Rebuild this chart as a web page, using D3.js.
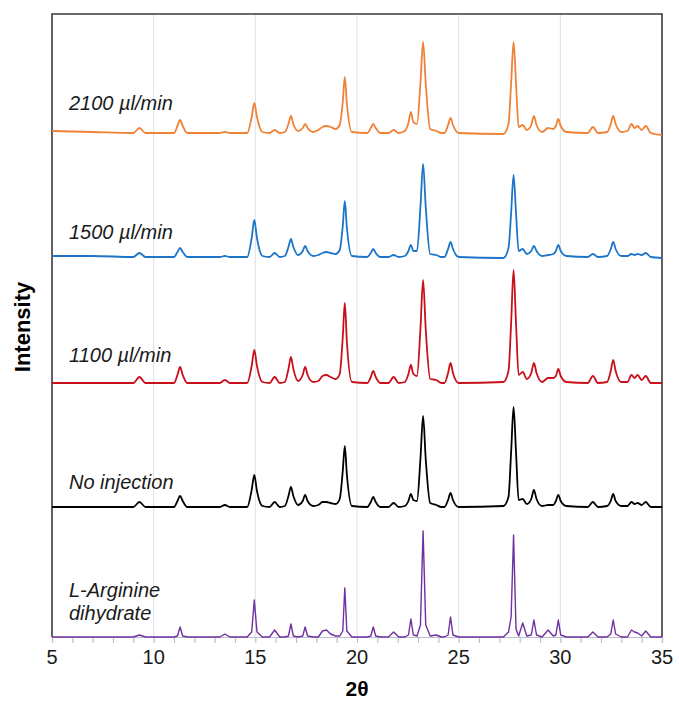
<!DOCTYPE html>
<html><head><meta charset="utf-8">
<script src="https://cdn.jsdelivr.net/npm/d3@7"></script>
<style>html,body{margin:0;padding:0;background:#fff;} svg{display:block;}</style>
</head><body>
<svg id="chart" width="679" height="709"></svg>
<script>
// 2θ vertices (shared by all patterns)
const twoTheta = [
  5.0, 7.0,
  9.0, 9.3, 9.6,
  11.0, 11.17, 11.3, 11.43, 11.65,
  13.25, 13.5, 13.75,
  14.6, 14.82, 14.95, 15.08, 15.35,
  15.7, 15.95, 16.2,
  16.45, 16.63, 16.75, 16.87, 17.1, 17.33, 17.45, 17.57, 17.85,
  18.1, 18.3, 18.5, 18.7, 18.95, 19.15, 19.3, 19.4, 19.5, 19.75,
  20.5, 20.68, 20.8, 20.92, 21.15,
  21.55, 21.8, 22.05,
  22.35, 22.53, 22.65, 22.77, 22.95, 23.12, 23.25, 23.38, 23.6, 23.9, 24.15,
  24.3, 24.48, 24.6, 24.72, 25.0,
  27.2, 27.45, 27.58, 27.7, 27.82, 27.95, 28.15, 28.35, 28.57, 28.7, 28.83, 29.1,
  29.4, 29.65, 29.78, 29.9, 30.02, 30.3,
  31.35, 31.6, 31.85,
  32.3, 32.48, 32.6, 32.72, 33.0,
  33.3, 33.5, 33.65, 33.8, 34.0, 34.2, 34.45,
  35.0
];

const seriesNames = ["L-Arginine dihydrate", "No injection", "1100 µl/min", "1500 µl/min", "2100 µl/min"];
const seriesColors = ["#7030a0", "#000000", "#c8101a", "#1c75c8", "#ef8236"];
const seriesOffsets = [0, 130, 254, 380, 504];

const intensityArginine = [
  0, 0,
  0, 2, 0,
  0, 1, 10, 1, 0,
  0, 3, 0,
  0, 5, 37, 5, 0,
  0, 7, 0,
  0, 1, 13, 1, 0, 1, 10, 1, 0,
  0, 6, 7, 3, 1, 1, 6, 49, 6, 0,
  0, 1, 10, 1, 0,
  0, 5, 0,
  0, 2, 18, 2, 1, 12, 106, 12, 1, 2, 0,
  0, 2, 20, 2, 0,
  0, 5, 20, 102, 8, 1, 14, 1, 2, 17, 2, 0,
  7, 1, 2, 17, 2, 0,
  0, 5, 0,
  0, 3, 17, 3, 0,
  0, 7, 5, 4, 1, 6, 0,
  0
];
const intensityNoInjection = [
  0, 0,
  0, 5, 0,
  0, 6, 11, 6, 0,
  0, 2, 0,
  0, 17, 32, 16, 1,
  0, 5, 0,
  1, 11, 20, 11, 2, 6, 12, 6, 1,
  2, 5, 5, 4, 3, 8, 36, 61, 33, 1,
  0, 5, 10, 5, 0,
  0, 4, 0,
  1, 6, 13, 7, 6, 48, 91, 48, 4, 2, 0,
  0, 7, 14, 7, 0,
  1, 10, 55, 100, 55, 7, 8, 3, 8, 17, 8, 1,
  2, 2, 6, 12, 6, 1,
  0, 5, 0,
  1, 6, 13, 6, 1,
  1, 5, 3, 4, 2, 5, 0,
  0
];
const intensity1100 = [
  0, 0,
  0, 6, 0,
  0, 8, 16, 8, 0,
  0, 3, 0,
  0, 17, 33, 17, 1,
  0, 6, 0,
  1, 14, 26, 14, 2, 8, 16, 8, 1,
  2, 7, 8, 6, 4, 9, 46, 80, 42, 1,
  0, 6, 12, 6, 0,
  0, 6, 0,
  1, 9, 18, 9, 7, 54, 103, 54, 4, 3, 0,
  0, 10, 20, 10, 0,
  1, 12, 60, 113, 60, 8, 11, 4, 10, 20, 10, 1,
  5, 5, 7, 14, 7, 1,
  0, 7, 0,
  1, 12, 23, 12, 1,
  1, 8, 5, 8, 3, 7, 0,
  0
];
const intensity1500 = [
  1, 1,
  0, 4, 0,
  0, 5, 9, 5, 0,
  0, 1, 0,
  0, 19, 37, 19, 1,
  0, 4, 0,
  1, 10, 18, 10, 2, 6, 11, 6, 1,
  2, 4, 5, 4, 3, 7, 31, 56, 30, 1,
  0, 4, 8, 4, 0,
  0, 2, 0,
  1, 6, 12, 6, 6, 50, 93, 50, 3, 2, 0,
  0, 8, 15, 8, 0,
  -1, 9, 44, 82, 44, 6, 8, 3, 6, 11, 6, 1,
  2, 3, 6, 12, 6, 1,
  0, 3, 0,
  1, 8, 15, 8, 1,
  1, 3, 2, 3, 2, 4, 0,
  -1
];
const intensity2100 = [
  2, 1,
  0, 5, 0,
  0, 7, 13, 7, 0,
  0, 1, 0,
  0, 16, 30, 16, 1,
  0, 3, 0,
  1, 9, 17, 9, 2, 5, 9, 5, 1,
  3, 6, 7, 6, 4, 8, 31, 56, 30, 1,
  0, 5, 9, 5, 0,
  0, 3, 0,
  2, 10, 21, 11, 9, 50, 91, 50, 4, 2, 0,
  0, 8, 15, 8, 0,
  -1, 9, 50, 91, 50, 6, 8, 3, 8, 17, 8, 1,
  5, 4, 7, 14, 7, 1,
  0, 6, 0,
  1, 9, 17, 9, 1,
  2, 9, 5, 7, 3, 7, 0,
  -2
];
const seriesValues = [intensityArginine, intensityNoInjection, intensity1100, intensity1500, intensity2100];

const xTicks = [5, 10, 15, 20, 25, 30, 35];
const xMinorTicks = d3.range(5, 36, 1);
const labelLines = [["L-Arginine", "dihydrate"], ["No injection"], ["1100 µl/min"], ["1500 µl/min"], ["2100 µl/min"]];

// ---------- layout ----------
const m = {left: 52, right: 662, top: 14, bottom: 637};
const svg = d3.select("#chart");
const x = d3.scaleLinear().domain([5, 35]).range([m.left, m.right]);
const y = d3.scaleLinear().domain([0, 623]).range([m.bottom, m.top]);
const font = "'Liberation Sans', Arial, sans-serif";

// gridlines
svg.append("g").selectAll("line").data(xTicks.slice(1, -1)).join("line")
  .attr("x1", d => x(d)).attr("x2", d => x(d))
  .attr("y1", m.top).attr("y2", m.bottom)
  .attr("stroke", "#dbe1ea").attr("stroke-width", 1);

// x axis (minor ticks every 1)
const axisG = svg.append("g").attr("transform", `translate(0,${m.bottom})`);
axisG.call(d3.axisBottom(x).tickValues(xMinorTicks).tickSize(6).tickFormat(""));
axisG.select(".domain").attr("stroke", "#b9c0cc").attr("stroke-width", 1.2);
axisG.selectAll(".tick line").attr("stroke", "#b9c0cc").attr("stroke-width", 1.2);

// tick labels
svg.append("g").selectAll("text").data(xTicks).join("text")
  .attr("x", d => x(d)).attr("y", 664)
  .attr("text-anchor", "middle")
  .attr("font-family", font).attr("font-size", 20).attr("fill", "#1a1a1a")
  .text(d => d);

// frame (top, left, right)
svg.append("path")
  .attr("d", `M${m.left},${m.bottom}V${m.top}H${m.right}V${m.bottom}`)
  .attr("fill", "none").attr("stroke", "#3a3a3a").attr("stroke-width", 1.6);

// patterns
const lineSharp = d3.line().x(d => x(d[0])).y(d => y(d[1]));
const lineSmooth = d3.line().x(d => x(d[0])).y(d => y(d[1])).curve(d3.curveMonotoneX);
seriesValues.forEach((vals, i) => {
  const pts = twoTheta.map((t, k) => [t, seriesOffsets[i] + (vals[k] || 0)]);
  svg.append("path").datum(pts)
    .attr("d", i === 0 ? lineSharp : lineSmooth)
    .attr("fill", "none")
    .attr("stroke", seriesColors[i])
    .attr("stroke-width", i === 0 ? 1.4 : 1.8)
    .attr("stroke-linejoin", "round");
});

// series labels
const labelBaselines = [597, 489, 362, 239, 110];
labelLines.forEach((lines, i) => {
  lines.forEach((t, j) => {
    svg.append("text")
      .attr("x", 69).attr("y", labelBaselines[i] + j * 23)
      .attr("font-family", font).attr("font-size", 20).attr("font-style", "italic")
      .attr("fill", "#1a1a1a").text(t);
  });
});

// axis titles
svg.append("text").attr("x", (m.left + m.right) / 2).attr("y", 696)
  .attr("text-anchor", "middle").attr("font-family", font)
  .attr("font-size", 21).attr("font-weight", "bold").attr("fill", "#000").text("2θ");
svg.append("text").attr("transform", `translate(30,327) rotate(-90)`)
  .attr("text-anchor", "middle").attr("font-family", font)
  .attr("font-size", 22).attr("font-weight", "bold").attr("fill", "#000").text("Intensity");
</script>
</body></html>
